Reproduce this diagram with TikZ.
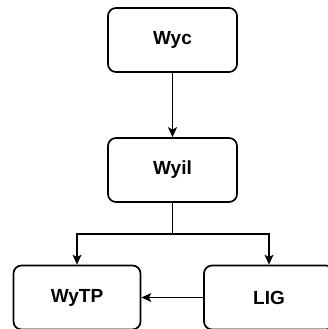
\documentclass[tikz,border=0pt]{standalone}
\usepackage{fontspec}
\setmainfont{Liberation Sans}
\usetikzlibrary{shapes.geometric, arrows.meta}
\tikzstyle{box} = [
    rectangle,
    rounded corners=8pt,
    minimum width=129pt,
    minimum height=64pt,
    line width=1.7pt,
    draw=black,
    font=\fontsize{19}{22}\selectfont\bfseries
]
\tikzstyle{arrow} = [line width=1.3pt,->,>={Stealth[length=10pt,width=9pt,inset=2.5pt]}]
\tikzstyle{line} = [line width=1.3pt]

\begin{document}
\begin{tikzpicture}[node distance=130pt]

\useasboundingbox (0pt,0pt) rectangle (328pt,-329pt);

\node (wyc) [box] at (172.5pt,-40pt) {Wyc};

\node (wyil) [box, below of=wyc]
{Wyil};

\node (wytp) [box, minimum width=127pt, below of=wyil, xshift=-95.5pt, yshift=2.5pt]
{WyTP};

\node (lig) [box, minimum width=130pt, below of=wyil, xshift=96.5pt, yshift=2.5pt]
{LIG};

\draw [arrow] (wyc) -- (wyil);
\draw [line] (wyil.south) -- ++(0,-31pt) coordinate (split);
\draw [arrow] (split) -| (wytp);
\draw [arrow] (split) -| (lig);
\draw [arrow] (lig) -- (wytp);

\end{tikzpicture}
\end{document}
